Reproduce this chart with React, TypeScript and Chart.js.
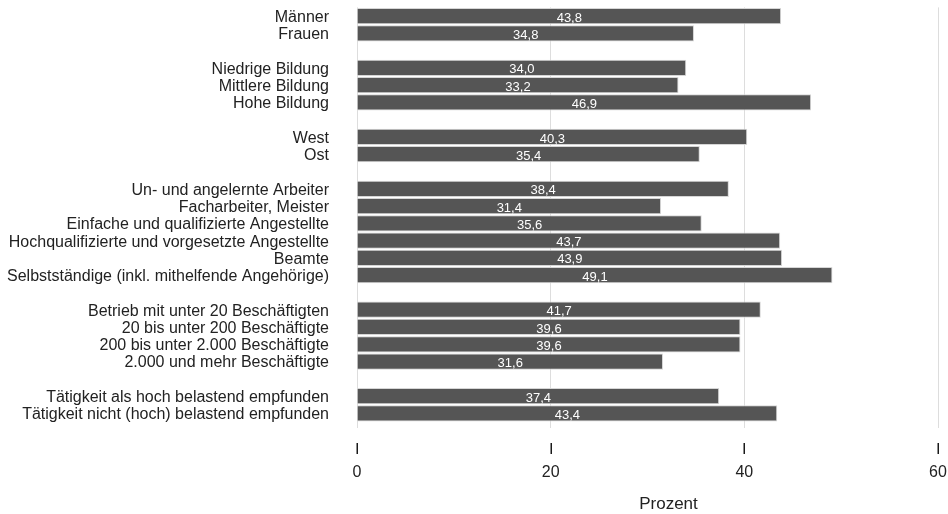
import React, { useEffect, useRef } from "react";
import { Chart, registerables } from "chart.js";

Chart.register(...registerables);

const categories: string[] = [
  "Männer",
  "Frauen",
  "",
  "Niedrige Bildung",
  "Mittlere Bildung",
  "Hohe Bildung",
  "",
  "West",
  "Ost",
  "",
  "Un- und angelernte Arbeiter",
  "Facharbeiter, Meister",
  "Einfache und qualifizierte Angestellte",
  "Hochqualifizierte und vorgesetzte Angestellte",
  "Beamte",
  "Selbstständige (inkl. mithelfende Angehörige)",
  "",
  "Betrieb mit unter 20 Beschäftigten",
  "20 bis unter 200 Beschäftigte",
  "200 bis unter 2.000 Beschäftigte",
  "2.000 und mehr Beschäftigte",
  "",
  "Tätigkeit als hoch belastend empfunden",
  "Tätigkeit nicht (hoch) belastend empfunden",
];

const values: (number | null)[] = [
  43.8, 34.8, null,
  34.0, 33.2, 46.9, null,
  40.3, 35.4, null,
  38.4, 31.4, 35.6, 43.7, 43.9, 49.1, null,
  41.7, 39.6, 39.6, 31.6, null,
  37.4, 43.4,
];

const xTicks: number[] = [0, 20, 40, 60];
const axisTitle = "Prozent";

const FONT = "'Liberation Sans', Arial, sans-serif";

const extrasPlugin = {
  id: "extras",
  afterDatasetsDraw(chart: any) {
    const ctx = chart.ctx;
    const meta = chart.getDatasetMeta(0);
    ctx.save();
    ctx.fillStyle = "#ffffff";
    ctx.font = `13px ${FONT}`;
    ctx.textAlign = "center";
    ctx.textBaseline = "middle";
    meta.data.forEach((el: any, i: number) => {
      const v = values[i];
      if (v === null || v === undefined) return;
      const cx = (el.x + el.base) / 2;
      ctx.fillText(v.toFixed(1).replace(".", ","), cx, el.y + 2);
    });
    ctx.restore();
  },
  afterDraw(chart: any) {
    const ctx = chart.ctx;
    const xs = chart.scales.x;
    ctx.save();
    ctx.strokeStyle = "#1a1a1a";
    ctx.lineWidth = 1.5;
    xTicks.forEach((t) => {
      const px = Math.round(xs.getPixelForValue(t)) + 0.25;
      ctx.beginPath();
      ctx.moveTo(px, xs.top + 21);
      ctx.lineTo(px, xs.top + 32);
      ctx.stroke();
    });
    ctx.fillStyle = "#222222";
    ctx.font = `17px ${FONT}`;
    ctx.textAlign = "center";
    ctx.textBaseline = "middle";
    ctx.fillText(axisTitle, (xs.left + xs.right) / 2 + 21, xs.top + 82);
    ctx.restore();
  },
};

export default function App() {
  const ref = useRef<HTMLCanvasElement | null>(null);

  useEffect(() => {
    if (!ref.current) return;
    const chart = new Chart(ref.current, {
      type: "bar",
      data: {
        labels: categories,
        datasets: [
          {
            data: values as any,
            backgroundColor: "#555555",
            borderColor: "#d6d6d6",
            borderWidth: 1,
            barPercentage: 0.94,
            categoryPercentage: 1,
          },
        ],
      },
      options: {
        indexAxis: "y",
        responsive: false,
        animation: false,
        devicePixelRatio: 1,
        layout: { padding: { top: 7.4, right: 10, left: 0, bottom: 0 } },
        plugins: {
          legend: { display: false },
          tooltip: { enabled: false },
          title: { display: false },
        },
        scales: {
          x: {
            type: "linear",
            min: 0,
            max: 60,
            afterBuildTicks: (s: any) => {
              s.ticks = xTicks.map((v) => ({ value: v }));
            },
            afterFit: (s: any) => {
              s.height = 92;
              s.paddingLeft = 0;
              s.paddingRight = 0;
              s.paddingTop = 0;
              s.paddingBottom = 0;
            },
            grid: {
              color: "#dddddd",
              lineWidth: 1,
              drawTicks: true,
              tickLength: 6,
              tickColor: "#dddddd",
            },
            border: { display: false },
            ticks: {
              color: "#222222",
              font: { family: FONT, size: 16 },
              padding: 35,
              maxRotation: 0,
            },
          },
          y: {
            type: "category",
            afterFit: (s: any) => {
              s.width = 357;
              s.paddingLeft = 0;
              s.paddingRight = 0;
              s.paddingTop = 0;
              s.paddingBottom = 0;
            },
            grid: { display: false, drawTicks: false },
            border: { display: false },
            ticks: {
              color: "#222222",
              font: { family: FONT, size: 16 },
              padding: 28,
              labelOffset: 1.5,
              autoSkip: false,
            },
          },
        },
      },
      plugins: [extrasPlugin],
    });
    return () => chart.destroy();
  }, []);

  return (
    <div style={{ position: "fixed", left: 0, top: 0, width: 948, height: 514, background: "#ffffff" }}>
      <canvas ref={ref} width={948} height={514} style={{ display: "block" }} />
    </div>
  );
}
